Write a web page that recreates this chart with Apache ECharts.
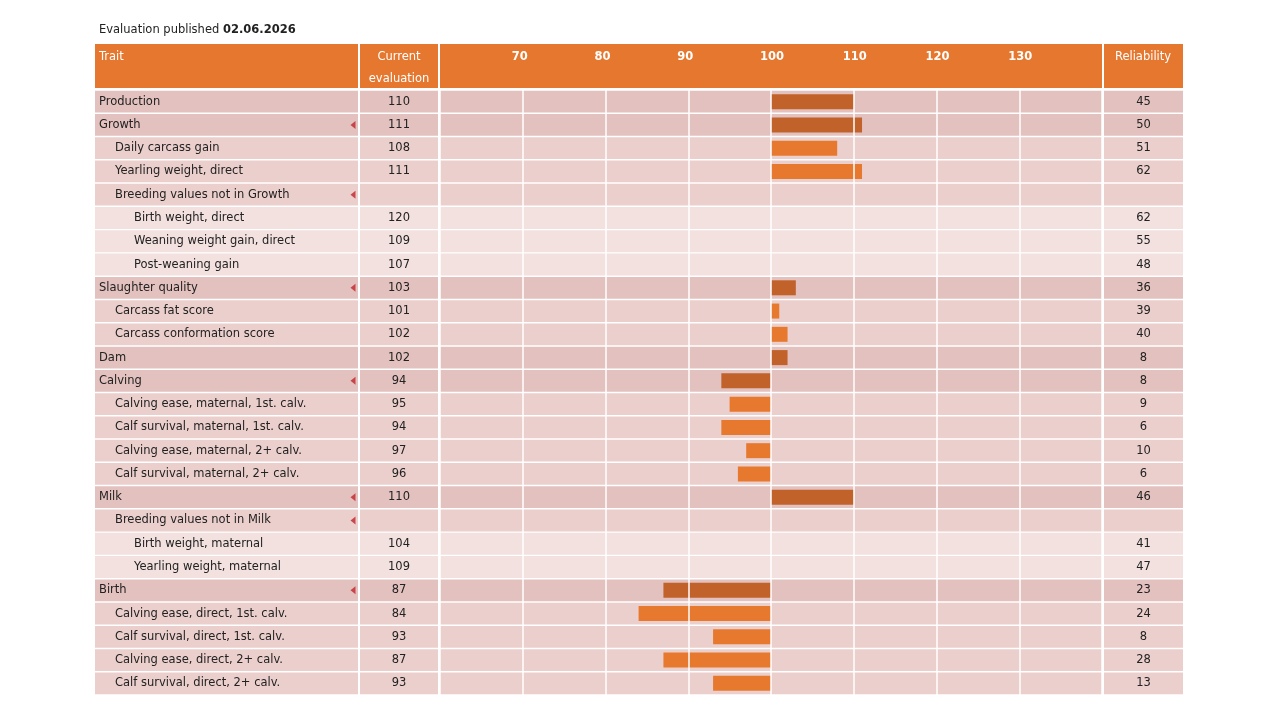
<!DOCTYPE html>
<html>
<head>
<meta charset="utf-8">
<script src="https://cdn.jsdelivr.net/npm/echarts@6/dist/echarts.min.js"></script>
<style>
html, body { margin: 0; padding: 0; background: #fff; }
#container { width: 1280px; height: 720px; }
</style>
</head>
<body>
<div id="container"></div>
<script>
var publishedDate = '02.06.2026';

var traits = [
  'Production', 'Growth', 'Daily carcass gain', 'Yearling weight, direct',
  'Breeding values not in Growth', 'Birth weight, direct', 'Weaning weight gain, direct',
  'Post-weaning gain', 'Slaughter quality', 'Carcass fat score', 'Carcass conformation score',
  'Dam', 'Calving', 'Calving ease, maternal, 1st. calv.', 'Calf survival, maternal, 1st. calv.',
  'Calving ease, maternal, 2+ calv.', 'Calf survival, maternal, 2+ calv.', 'Milk',
  'Breeding values not in Milk', 'Birth weight, maternal', 'Yearling weight, maternal',
  'Birth', 'Calving ease, direct, 1st. calv.', 'Calf survival, direct, 1st. calv.',
  'Calving ease, direct, 2+ calv.', 'Calf survival, direct, 2+ calv.'
];
// 0 = group, 1 = trait, 2 = trait not in the group index (no bar)
var levels = [0, 0, 1, 1, 1, 2, 2, 2, 0, 1, 1, 0, 0, 1, 1, 1, 1, 0, 1, 2, 2, 0, 1, 1, 1, 1];
var evaluations = [110, 111, 108, 111, null, 120, 109, 107, 103, 101, 102, 102, 94, 95, 94, 97, 96, 110, null, 104, 109, 87, 84, 93, 87, 93];
var reliability = [45, 50, 51, 62, null, 62, 55, 48, 36, 39, 40, 8, 8, 9, 6, 10, 6, 46, null, 41, 47, 23, 24, 8, 28, 13];
var expandable = [false, true, false, false, true, false, false, false, true, false, false, false, true, false, false, false, false, true, true, false, false, true, false, false, false, false];

var baseValue = 100;
var scaleMin = 60;
var scaleMax = 140;
var scaleStep = 10;

var FONT = 'DejaVu Sans';
var rowColors = ['#E3C1BE', '#EBCFCC', '#F2E1DF'];
var barColors = ['#C1622A', '#E7792F'];
var headerColor = '#E5772F';
var textColor = '#222';
var indents = [0, 16, 35];

var dom = document.getElementById('container');
var myChart = echarts.init(dom, null, { renderer: 'canvas' });

var gridTop = 90, gridHeight = 605;
var cols = [
  { left: 95, width: 263 },
  { left: 360, width: 78 },
  { left: 440, width: 662 },
  { left: 1104, width: 79 }
];
var rowBarWidth = 21.8;

function bgData(value, indent) {
  return traits.map(function (t, i) {
    var d = { value: value, itemStyle: { color: rowColors[levels[i]] } };
    if (indent) d.label = { padding: [0, 0, 0, indents[levels[i]]] };
    return d;
  });
}

var baseSeries = evaluations.map(function (v, i) {
  return (v == null || levels[i] > 1) ? '-' : Math.min(v, baseValue);
});
var diffSeries = evaluations.map(function (v, i) {
  if (v == null || levels[i] > 1) return '-';
  return { value: Math.abs(v - baseValue), itemStyle: { color: barColors[levels[i]] } };
});
var arrowData = [];
traits.forEach(function (t, i) { if (expandable[i]) arrowData.push([1, t]); });

function hiddenX(gi) {
  return { gridIndex: gi, type: 'value', min: 0, max: 1, show: false };
}
function hiddenY(gi) {
  return { gridIndex: gi, type: 'category', data: traits, inverse: true, show: false };
}

var headerStyle = { fill: '#fff', font: '11.5px "' + FONT + '"' };

var option = {
  animation: false,
  backgroundColor: '#fff',
  textStyle: { fontFamily: FONT },
  title: {
    left: 94,
    top: 19,
    text: '{a|Evaluation published }{b|' + publishedDate + '}',
    textStyle: {
      fontWeight: 'normal',
      rich: {
        a: { fontSize: 11.5, color: textColor, fontFamily: FONT, fontWeight: 'normal' },
        b: { fontSize: 11.5, color: textColor, fontFamily: FONT, fontWeight: 'bold' }
      }
    }
  },
  graphic: [
    { type: 'rect', shape: { x: 95, y: 44, width: 263, height: 44 }, style: { fill: headerColor } },
    { type: 'rect', shape: { x: 360, y: 44, width: 78, height: 44 }, style: { fill: headerColor } },
    { type: 'rect', shape: { x: 440, y: 44, width: 662, height: 44 }, style: { fill: headerColor } },
    { type: 'rect', shape: { x: 1104, y: 44, width: 79, height: 44 }, style: { fill: headerColor } },
    { type: 'text', x: 99, y: 57, style: Object.assign({ text: 'Trait', verticalAlign: 'middle' }, headerStyle) },
    { type: 'text', x: 399, y: 57, style: Object.assign({ text: 'Current', align: 'center', verticalAlign: 'middle' }, headerStyle) },
    { type: 'text', x: 399, y: 79, style: Object.assign({ text: 'evaluation', align: 'center', verticalAlign: 'middle' }, headerStyle) },
    { type: 'text', x: 1143, y: 57, style: Object.assign({ text: 'Reliability', align: 'center', verticalAlign: 'middle' }, headerStyle) }
  ],
  grid: cols.map(function (c) {
    return { left: c.left, width: c.width, top: gridTop, height: gridHeight, containLabel: false };
  }),
  xAxis: [
    hiddenX(0),
    hiddenX(1),
    {
      gridIndex: 2, type: 'value', min: scaleMin, max: scaleMax, interval: scaleStep,
      position: 'top', z: 10,
      axisLine: { show: false },
      axisTick: { show: false },
      splitLine: { show: true, lineStyle: { color: '#fff', width: 1.5 } },
      axisLabel: {
        color: '#fff', fontWeight: 'bold', fontSize: 11.5, fontFamily: FONT, margin: 27,
        formatter: function (v) { return (v === scaleMin || v === scaleMax) ? '' : '{t|' + v + '}'; },
        rich: {
          t: { width: 22, align: 'left', color: '#fff', fontWeight: 'bold', fontSize: 11.5, fontFamily: FONT }
        }
      }
    },
    hiddenX(3)
  ],
  yAxis: [hiddenY(0), hiddenY(1), hiddenY(2), hiddenY(3), hiddenY(2)],
  series: [
    {
      type: 'bar', xAxisIndex: 0, yAxisIndex: 0, barWidth: rowBarWidth, z: 1,
      data: bgData(1, true),
      label: {
        show: true, position: 'insideLeft', distance: 4, color: textColor,
        fontSize: 11.5, fontFamily: FONT,
        formatter: function (p) { return traits[p.dataIndex]; }
      }
    },
    {
      type: 'scatter', xAxisIndex: 0, yAxisIndex: 0, z: 5,
      symbol: 'triangle', symbolRotate: 90, symbolSize: [8, 5], symbolOffset: [-5, 0],
      itemStyle: { color: '#C0242C' },
      data: arrowData
    },
    {
      type: 'bar', xAxisIndex: 1, yAxisIndex: 1, barWidth: rowBarWidth, z: 1,
      data: bgData(1, false),
      label: {
        show: true, position: 'inside', color: textColor, fontSize: 11.5, fontFamily: FONT,
        formatter: function (p) { var v = evaluations[p.dataIndex]; return v == null ? '' : String(v); }
      }
    },
    {
      type: 'bar', xAxisIndex: 2, yAxisIndex: 2, barWidth: rowBarWidth, z: 1,
      data: bgData(scaleMax, false)
    },
    {
      type: 'bar', xAxisIndex: 2, yAxisIndex: 4, stack: 'ev', barWidth: 15, z: 2,
      itemStyle: { color: 'rgba(0,0,0,0)' },
      data: baseSeries
    },
    {
      type: 'bar', xAxisIndex: 2, yAxisIndex: 4, stack: 'ev', barWidth: 15, z: 2,
      data: diffSeries
    },
    {
      type: 'bar', xAxisIndex: 3, yAxisIndex: 3, barWidth: rowBarWidth, z: 1,
      data: bgData(1, false),
      label: {
        show: true, position: 'inside', color: textColor, fontSize: 11.5, fontFamily: FONT,
        formatter: function (p) { var v = reliability[p.dataIndex]; return v == null ? '' : String(v); }
      }
    }
  ]
};

myChart.setOption(option);
window.addEventListener('resize', myChart.resize);
</script>
</body>
</html>
